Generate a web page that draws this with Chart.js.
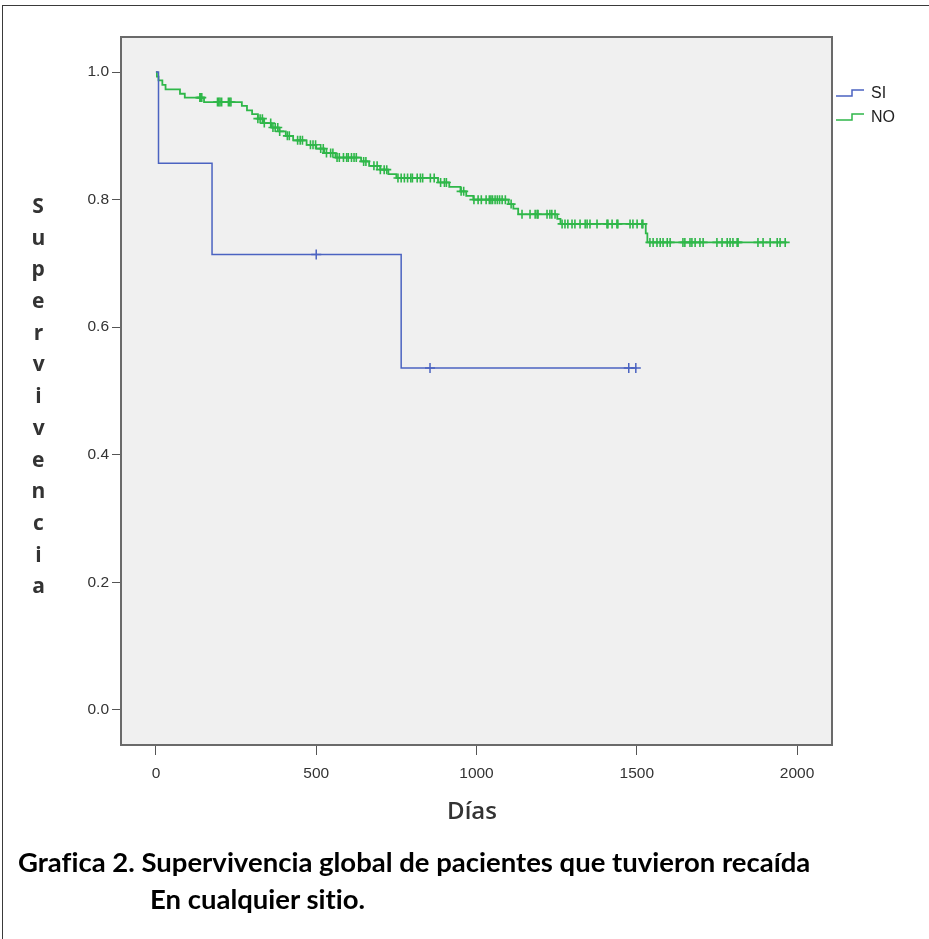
<!DOCTYPE html>
<html>
<head>
<meta charset="utf-8">
<script src="https://cdn.jsdelivr.net/npm/chart.js@4.4.1/dist/chart.umd.min.js"></script>
<style>
  html, body { margin: 0; padding: 0; background: #ffffff; }
  #wrap { position: relative; width: 929px; height: 939px; overflow: hidden; background: #fff; }
  #frame { position: absolute; left: 2px; top: 5px; width: 980px; height: 980px; border: 1px solid #3a3a3a; box-sizing: border-box; }
  #km { position: absolute; left: 0; top: 0; }
  #ytitle {
    position: absolute; left: 27px; top: 191px;
    writing-mode: vertical-lr; text-orientation: upright;
    font-family: 'Open Sans', 'DejaVu Sans', sans-serif; font-weight: 700; font-size: 21px;
    letter-spacing: 3.7px; line-height: 22px; color: #333;
  }
  #xtitle {
    position: absolute; left: 372px; width: 200px; top: 799px; text-align: center;
    font-family: 'Open Sans', 'DejaVu Sans', sans-serif; font-weight: 600; font-size: 24px;
    line-height: 22px; color: #333;
  }
  .cap {
    position: absolute; font-family: Lato, 'Open Sans', sans-serif; font-weight: 700;
    font-size: 27.5px; line-height: 27px; color: #000; white-space: nowrap;
    font-variant-ligatures: none;
  }
</style>
</head>
<body>
<div id="wrap">
  <div id="frame"></div>
  <canvas id="km" width="929" height="939"></canvas>
  <div id="ytitle">Supervivencia</div>
  <div id="xtitle">Días</div>
  <div class="cap" style="left:18px; top:848px;">Grafica 2. Supervivencia global de pacientes que tuvieron recaída</div>
  <div class="cap" style="left:150px; top:885px;">En cualquier sitio.</div>
</div>
<script>
// ---------------- data ----------------
const seriesNames = ['SI', 'NO'];

// Group SI (recaída = sí)
const siEventDays = [0, 8, 175, 765];
const siEventSurv = [1.0, 0.857, 0.714, 0.536];
const siEndDay = 1500;
const siCensorDays = [500, 855, 1475, 1497];

// Group NO
const noEventDays = [0, 3, 8, 20, 30, 75, 90, 150, 268, 284, 300, 318, 335, 360, 385, 405, 428,
  470, 500, 525, 560, 640, 665, 700, 725, 750, 880, 915, 950, 968, 990, 1100, 1115, 1130,
  1252, 1262, 1528, 1533];
const noEventSurv = [1.0, 0.993, 0.987, 0.980, 0.973, 0.966, 0.960, 0.953, 0.947, 0.940, 0.934,
  0.927, 0.920, 0.913, 0.907, 0.900, 0.893, 0.886, 0.880, 0.873, 0.866, 0.860, 0.853, 0.847,
  0.840, 0.834, 0.827, 0.820, 0.813, 0.806, 0.800, 0.793, 0.786, 0.777, 0.770, 0.762, 0.747, 0.733];
const noEndDay = 1968;
const noCensorDays = [137, 140, 143, 192, 196, 200, 205, 226, 230, 234,
  318, 325, 332, 338, 358, 365, 372, 380, 386, 410, 416, 442, 450, 457, 482, 490, 498,
  514, 522, 532, 545, 552, 565, 572, 585, 595, 600, 610, 618, 625, 648, 655, 680, 690,
  700, 712, 720, 755, 765, 775, 785, 795, 800, 815, 825, 832, 856, 868, 888, 900, 906,
  952, 960, 992, 1005, 1015, 1030, 1040, 1045, 1050, 1058, 1065, 1072, 1080, 1090, 1108,
  1142, 1167, 1183, 1189, 1192, 1220, 1229, 1235, 1245, 1267, 1276, 1285, 1298, 1307,
  1323, 1339, 1345, 1354, 1376, 1407, 1410, 1423, 1438, 1441, 1479, 1488, 1501, 1516,
  1519, 1541, 1551, 1563, 1573, 1582, 1595, 1604, 1644, 1650, 1666, 1672, 1682, 1697,
  1707, 1750, 1766, 1782, 1791, 1800, 1813, 1816, 1878, 1894, 1916, 1938, 1947, 1963];

// Axis ticks
const xTickValues = [0, 500, 1000, 1500, 2000];
const yTickValues = [0.0, 0.2, 0.4, 0.6, 0.8, 1.0];

// ---------------- helpers ----------------
function curvePoints(days, surv, endDay) {
  const pts = days.map((d, i) => ({ x: d, y: surv[i] }));
  pts.push({ x: endDay, y: surv[surv.length - 1] });
  return pts;
}
function survAt(days, surv, t) {
  let s = surv[0];
  for (let i = 0; i < days.length; i++) { if (days[i] <= t) s = surv[i]; }
  return s;
}
function censorPoints(cdays, days, surv) {
  return cdays.map(t => ({ x: t, y: survAt(days, surv, t) }));
}

const BLUE = '#4b63c1';
const GREEN = '#2fb749';
const TICK_FONT = { family: "'Liberation Sans', Arial, sans-serif", size: 15.5 };

const bgPlugin = {
  id: 'plotBg',
  beforeDraw(chart) {
    const a = chart.chartArea, ctx = chart.ctx;
    ctx.save();
    ctx.fillStyle = '#f0f0f0';
    ctx.fillRect(a.left, a.top, a.right - a.left, a.bottom - a.top);
    ctx.restore();
  },
  afterDraw(chart) {
    const a = chart.chartArea, ctx = chart.ctx;
    ctx.save();
    ctx.strokeStyle = '#6a6a6a';
    ctx.lineWidth = 2;
    ctx.strokeRect(a.left, a.top, a.right - a.left, a.bottom - a.top);
    // legend
    const items = [{ name: seriesNames[0], color: BLUE, y: 96 }, { name: seriesNames[1], color: GREEN, y: 120 }];
    ctx.lineWidth = 1.5;
    items.forEach(it => {
      ctx.strokeStyle = it.color;
      ctx.beginPath();
      ctx.moveTo(836, it.y);
      ctx.lineTo(852, it.y);
      ctx.lineTo(852, it.y - 6);
      ctx.lineTo(864, it.y - 6);
      ctx.stroke();
      ctx.fillStyle = '#222';
      ctx.font = "16px 'Liberation Sans', Arial, sans-serif";
      ctx.textBaseline = 'middle';
      ctx.textAlign = 'left';
      ctx.fillText(it.name, 871, it.y - 2);
    });
    ctx.restore();
  }
};

new Chart(document.getElementById('km'), {
  type: 'line',
  data: {
    datasets: [
      {
        label: seriesNames[0], data: curvePoints(siEventDays, siEventSurv, siEndDay),
        borderColor: BLUE, borderWidth: 1.5, stepped: true, pointRadius: 0, fill: false
      },
      {
        label: seriesNames[0] + ' censurado', data: censorPoints(siCensorDays, siEventDays, siEventSurv),
        showLine: false, pointStyle: 'cross', pointRadius: 5, borderColor: BLUE, borderWidth: 1.5
      },
      {
        label: seriesNames[1], data: curvePoints(noEventDays, noEventSurv, noEndDay),
        borderColor: GREEN, borderWidth: 1.8, stepped: true, pointRadius: 0, fill: false
      },
      {
        label: seriesNames[1] + ' censurado', data: censorPoints(noCensorDays, noEventDays, noEventSurv),
        showLine: false, pointStyle: 'cross', pointRadius: 4.5, borderColor: GREEN, borderWidth: 1.6
      }
    ]
  },
  options: {
    responsive: false,
    animation: false,
    events: [],
    layout: { padding: { left: 61, right: 97, top: 37, bottom: 134 } },
    plugins: { legend: { display: false }, tooltip: { enabled: false }, title: { display: false } },
    scales: {
      x: {
        type: 'linear', min: -109, max: 2109,
        afterBuildTicks: s => { s.ticks = xTickValues.map(v => ({ value: v })); },
        afterFit: s => { s.height = 60; },
        grid: { drawOnChartArea: false, drawTicks: true, tickLength: 10, color: '#555', lineWidth: 1 },
        border: { display: false },
        ticks: { color: '#333', font: TICK_FONT, padding: 9, maxRotation: 0, callback: v => String(v) }
      },
      y: {
        type: 'linear', min: -0.055, max: 1.055,
        afterBuildTicks: s => { s.ticks = yTickValues.map(v => ({ value: v })); },
        afterFit: s => { s.width = 60; },
        grid: { drawOnChartArea: false, drawTicks: true, tickLength: 9, color: '#555', lineWidth: 1 },
        border: { display: false },
        ticks: { color: '#333', font: TICK_FONT, padding: 3, callback: v => Number(v).toFixed(1) }
      }
    }
  },
  plugins: [bgPlugin]
});
</script>
</body>
</html>
